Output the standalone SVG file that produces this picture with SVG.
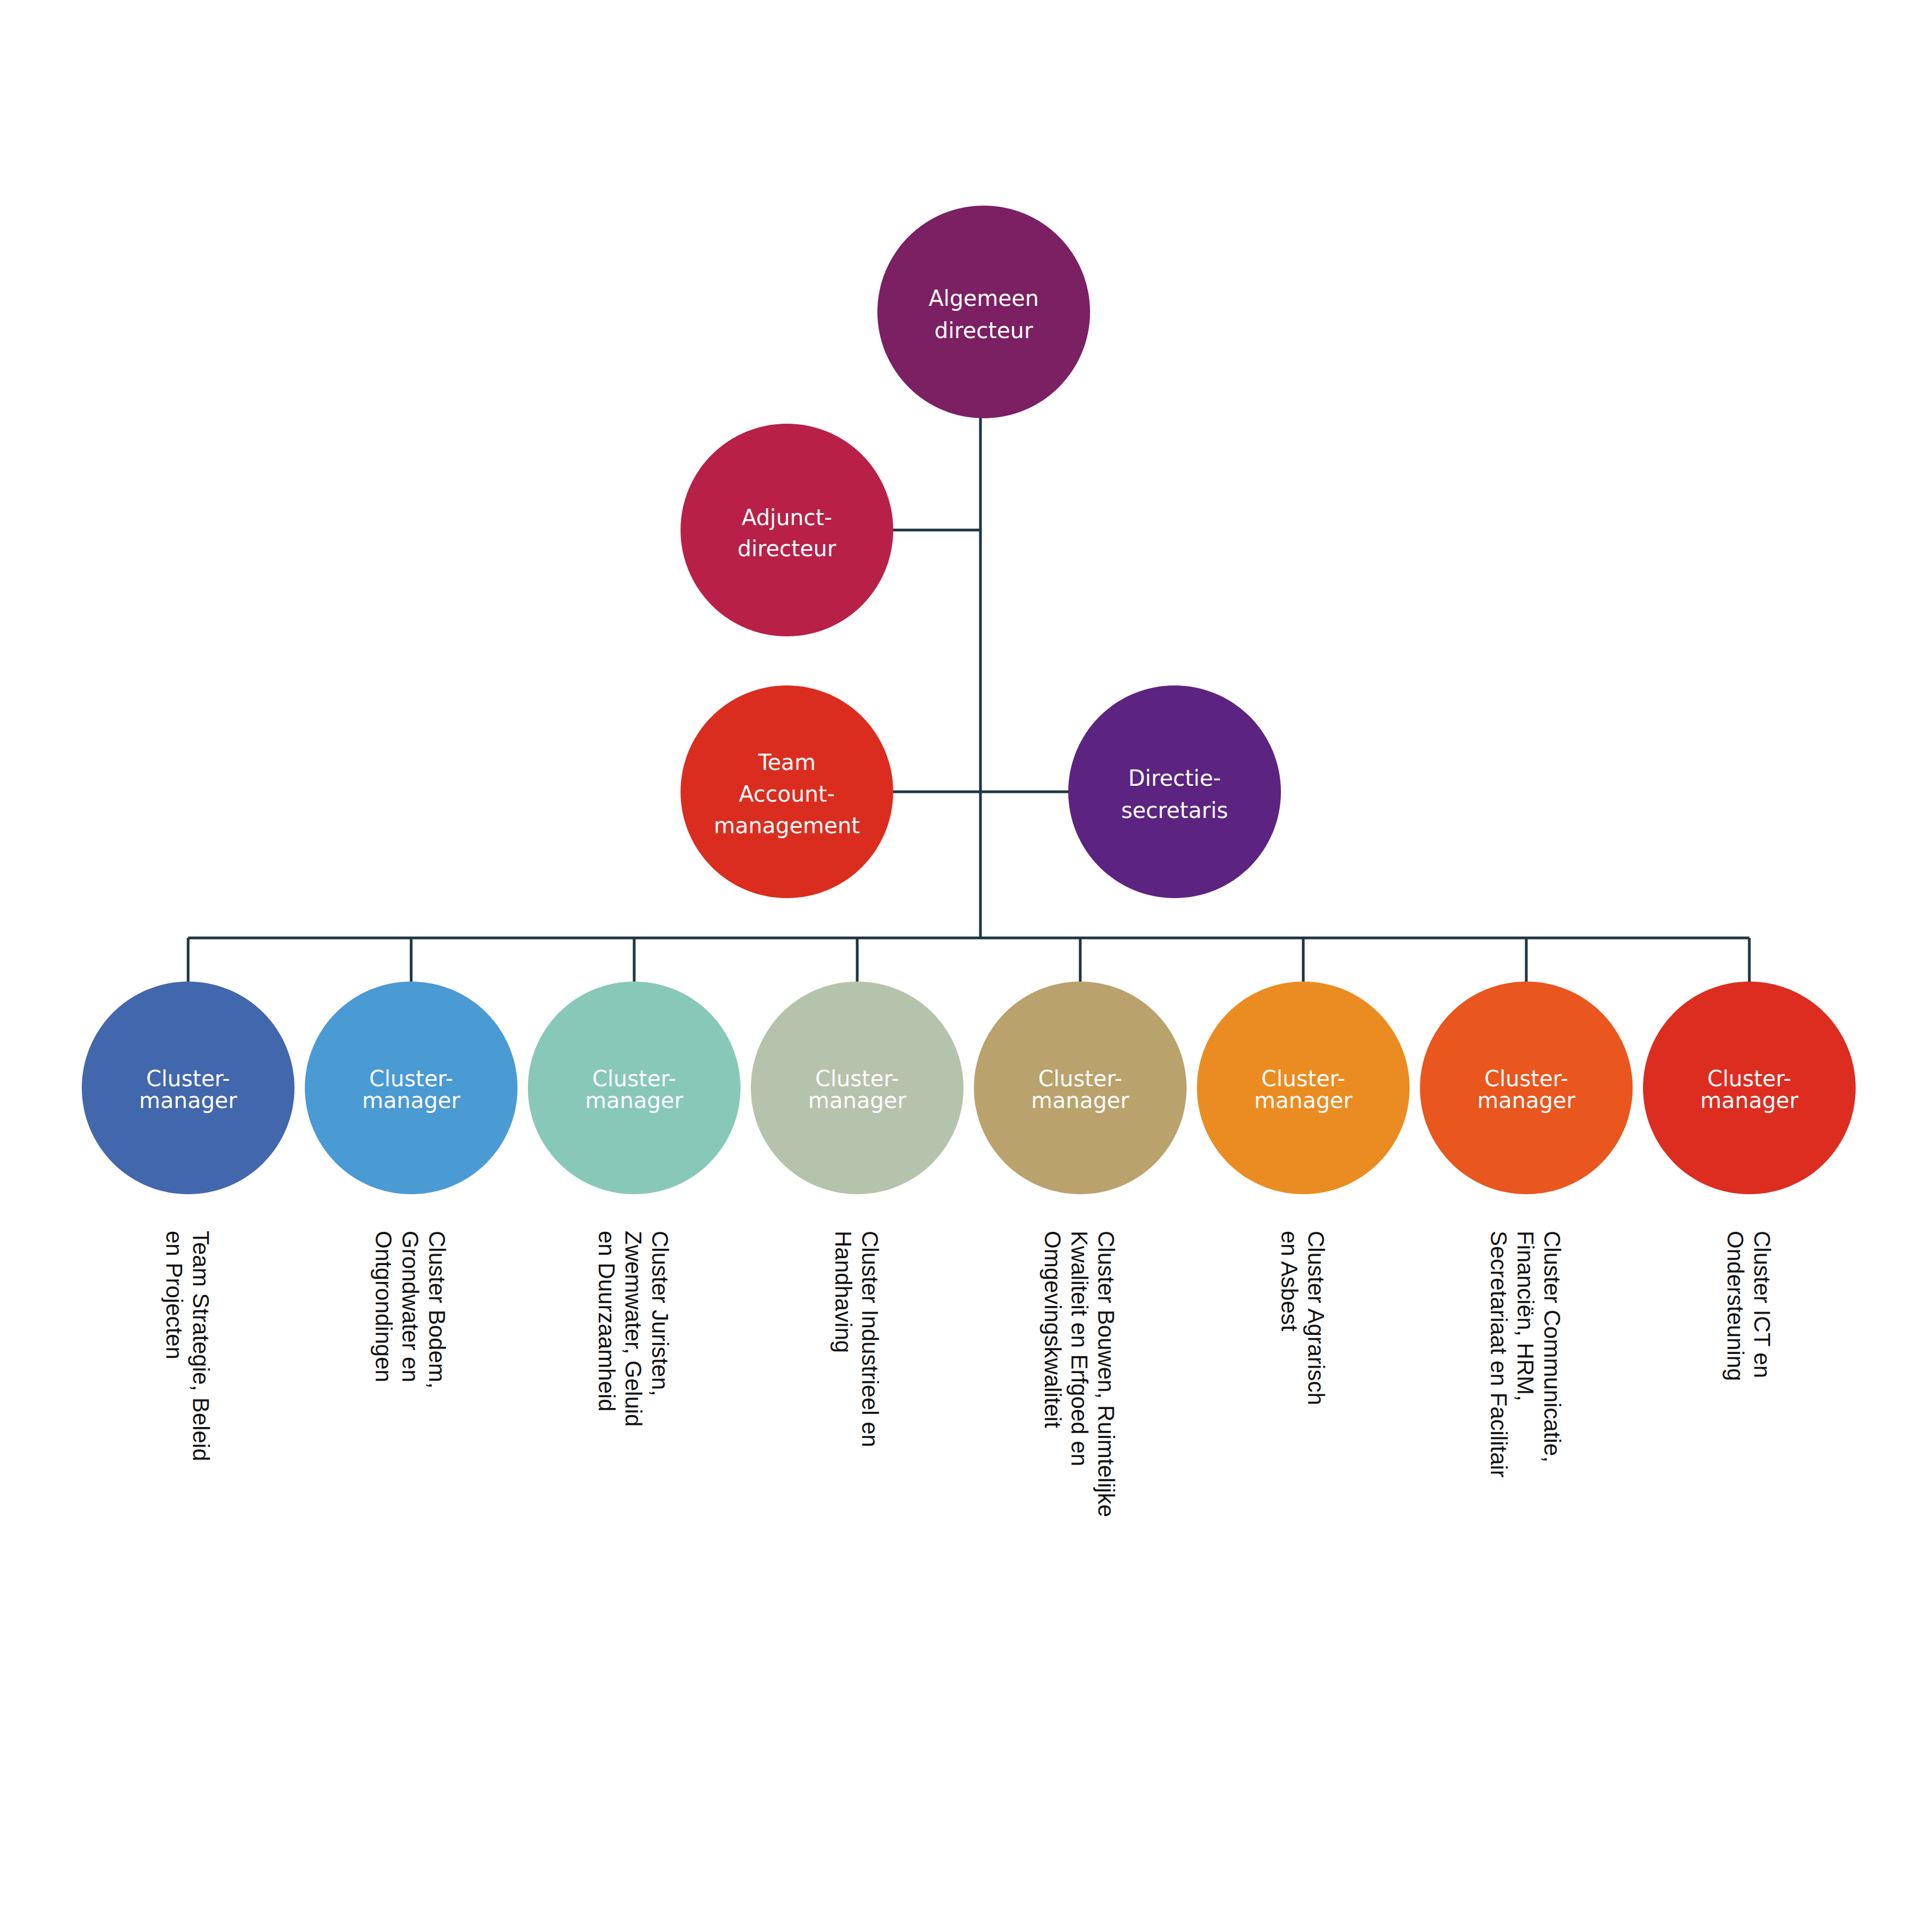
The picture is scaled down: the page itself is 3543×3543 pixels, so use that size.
<svg xmlns="http://www.w3.org/2000/svg" width="3543" height="3543" viewBox="0 0 3543 3543">
<style>
.c{font-family:"DejaVu Sans",sans-serif;font-size:40px;fill:#fff;text-anchor:middle}
.l{font-family:"Liberation Sans",Arial,sans-serif;font-size:42px;fill:#111}
.ln{stroke:#1F3640;stroke-width:5;fill:none}
</style>
<rect width="3543" height="3543" fill="#fff"/>
<g id="connectors" class="ln">
<path d="M1798 766V1720M1637 972H1800M1637 1452H1960M345 1720H3208"/>
<path d="M345 1720V1800M754 1720V1800M1163 1720V1800M1572 1720V1800M1981 1720V1800M2390 1720V1800M2799 1720V1800M3208 1720V1800"/>
</g>
<g id="n-algemeen"><circle cx="1804" cy="572" r="195" fill="#7B2062"/><text class="c" x="1804" y="561">Algemeen</text><text class="c" x="1804" y="620">directeur</text></g>
<g id="n-adjunct"><circle cx="1443" cy="972" r="195" fill="#B82047"/><text class="c" x="1443" y="963">Adjunct-</text><text class="c" x="1443" y="1020">directeur</text></g>
<g id="n-team"><circle cx="1443" cy="1452" r="195" fill="#DB2D1F"/><text class="c" x="1443" y="1412">Team</text><text class="c" x="1443" y="1470">Account-</text><text class="c" x="1443" y="1528">management</text></g>
<g id="n-directie"><circle cx="2154" cy="1452" r="195" fill="#5C2480"/><text class="c" x="2154" y="1441">Directie-</text><text class="c" x="2154" y="1500">secretaris</text></g>
<g id="cm1"><circle cx="345" cy="1995" r="195" fill="#4267AD"/><text class="c" x="345" y="1992">Cluster-</text><text class="c" x="345" y="2032">manager</text>
<text class="l" transform="translate(354,2257) rotate(90)"><tspan x="0">Team Strategie, Beleid</tspan><tspan x="0" dy="49">en Projecten</tspan></text></g>
<g id="cm2"><circle cx="754" cy="1995" r="195" fill="#4A9AD4"/><text class="c" x="754" y="1992">Cluster-</text><text class="c" x="754" y="2032">manager</text>
<text class="l" transform="translate(787,2257) rotate(90)"><tspan x="0">Cluster Bodem,</tspan><tspan x="0" dy="49">Grondwater en</tspan><tspan x="0" dy="49">Ontgrondingen</tspan></text></g>
<g id="cm3"><circle cx="1163" cy="1995" r="195" fill="#88C8B9"/><text class="c" x="1163" y="1992">Cluster-</text><text class="c" x="1163" y="2032">manager</text>
<text class="l" transform="translate(1196,2257) rotate(90)"><tspan x="0">Cluster Juristen,</tspan><tspan x="0" dy="49">Zwemwater, Geluid</tspan><tspan x="0" dy="49">en Duurzaamheid</tspan></text></g>
<g id="cm4"><circle cx="1572" cy="1995" r="195" fill="#B6C3AC"/><text class="c" x="1572" y="1992">Cluster-</text><text class="c" x="1572" y="2032">manager</text>
<text class="l" transform="translate(1581,2257) rotate(90)"><tspan x="0">Cluster Industrieel en</tspan><tspan x="0" dy="49">Handhaving</tspan></text></g>
<g id="cm5"><circle cx="1981" cy="1995" r="195" fill="#BAA26D"/><text class="c" x="1981" y="1992">Cluster-</text><text class="c" x="1981" y="2032">manager</text>
<text class="l" transform="translate(2014,2257) rotate(90)"><tspan x="0">Cluster Bouwen, Ruimtelijke</tspan><tspan x="0" dy="49">Kwaliteit en Erfgoed en</tspan><tspan x="0" dy="49">Omgevingskwaliteit</tspan></text></g>
<g id="cm6"><circle cx="2390" cy="1995" r="195" fill="#EB8C22"/><text class="c" x="2390" y="1992">Cluster-</text><text class="c" x="2390" y="2032">manager</text>
<text class="l" transform="translate(2399,2257) rotate(90)"><tspan x="0">Cluster Agrarisch</tspan><tspan x="0" dy="49">en Asbest</tspan></text></g>
<g id="cm7"><circle cx="2799" cy="1995" r="195" fill="#E9561E"/><text class="c" x="2799" y="1992">Cluster-</text><text class="c" x="2799" y="2032">manager</text>
<text class="l" transform="translate(2832,2257) rotate(90)"><tspan x="0">Cluster Communicatie,</tspan><tspan x="0" dy="49">Financiën, HRM,</tspan><tspan x="0" dy="49">Secretariaat en Facilitair</tspan></text></g>
<g id="cm8"><circle cx="3208" cy="1995" r="195" fill="#DC2D20"/><text class="c" x="3208" y="1992">Cluster-</text><text class="c" x="3208" y="2032">manager</text>
<text class="l" transform="translate(3217,2257) rotate(90)"><tspan x="0">Cluster ICT en</tspan><tspan x="0" dy="49">Ondersteuning</tspan></text></g>
</svg>
